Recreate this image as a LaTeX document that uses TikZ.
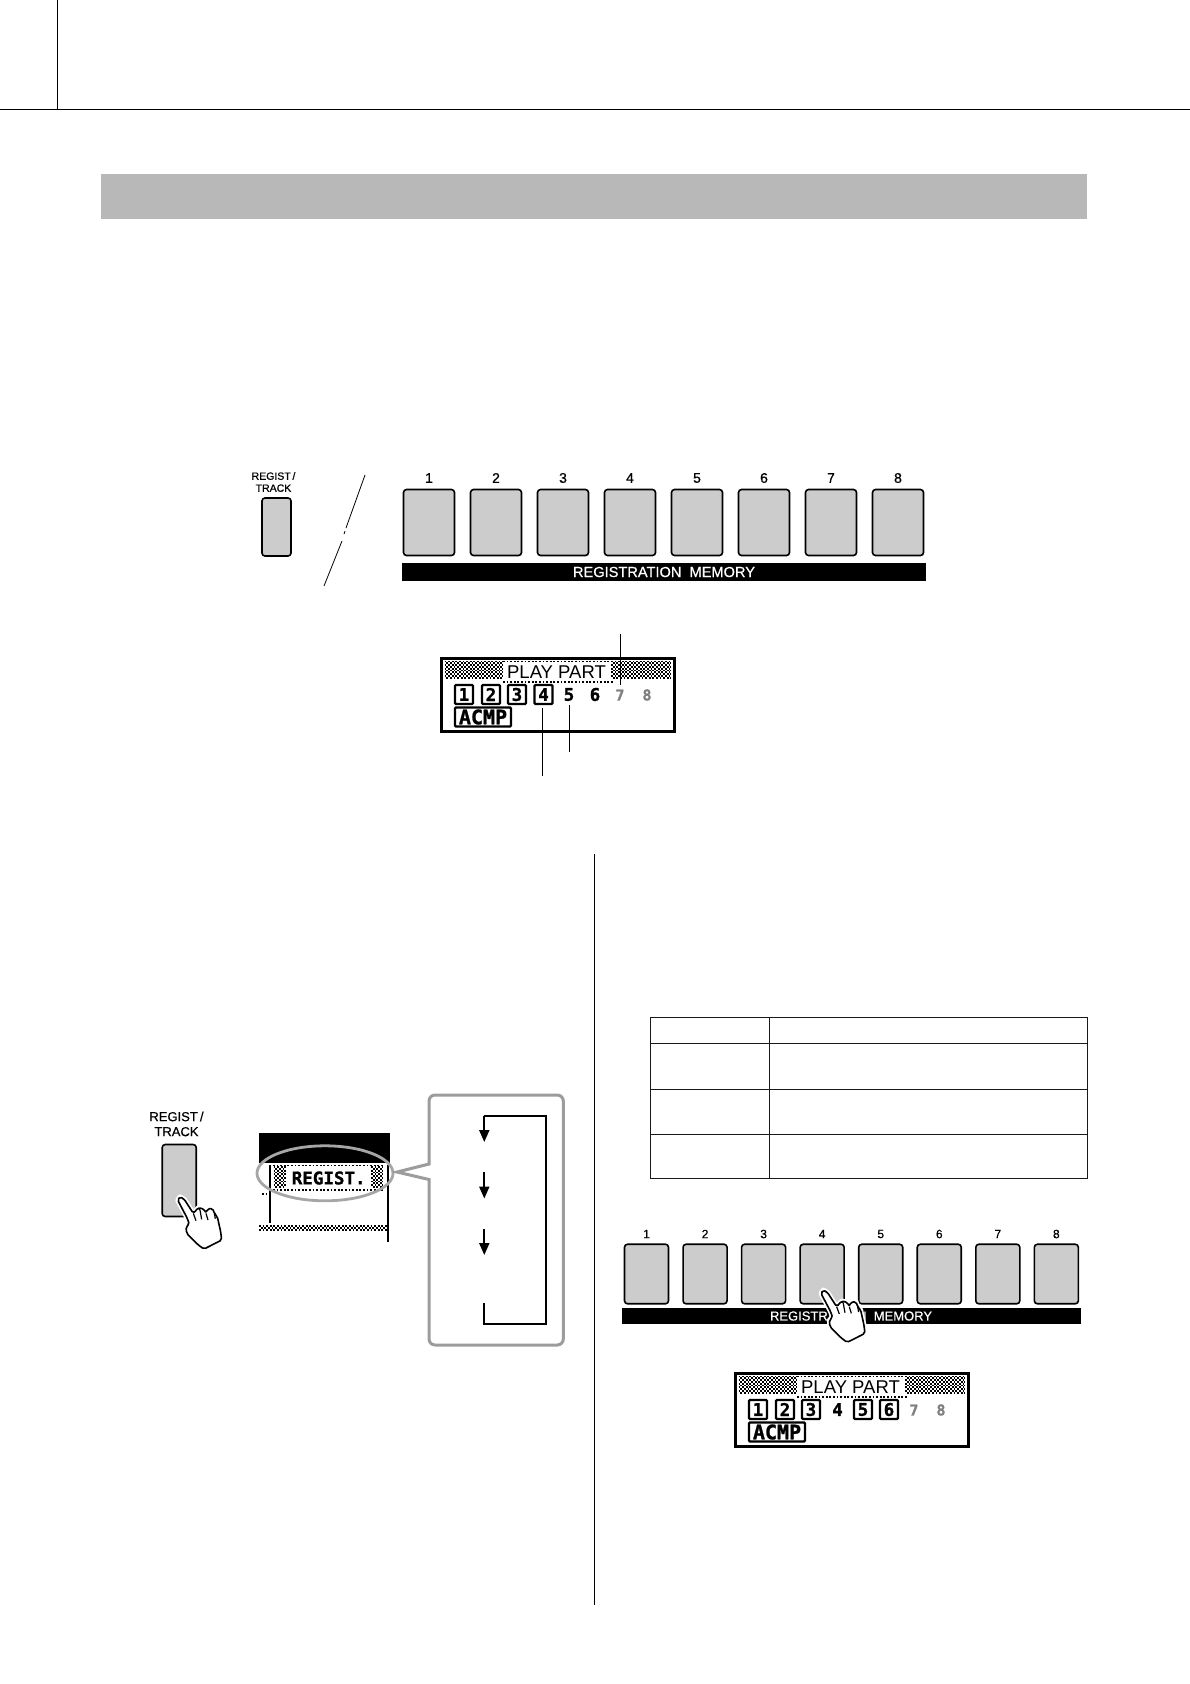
\documentclass[tikz,border=0pt]{standalone}
\usepackage{fontspec}
\setmainfont{Liberation Sans}
\newfontfamily\medfont[FakeBold=0.6]{Liberation Sans}
\newfontfamily\lcdfont[FakeBold=1.2]{DejaVu Sans Mono Bold}
\usetikzlibrary{arrows.meta}
\definecolor{keygray}{HTML}{CCCCCC}
\definecolor{bandgray}{HTML}{B8B8B8}
\definecolor{calloutgray}{HTML}{9C9C9C}
\tikzset{
  x=1pt,y=-1pt,
  keybox/.style={draw=black,fill=keygray,line width=1.6,rounded corners=3,inner sep=0,outer sep=0},
  topkey/.style={keybox,minimum width=51,minimum height=66},
  lowkey/.style={keybox,minimum width=44,minimum height=59.5},
  keynum/.style={font=\medfont\fontsize{14}{14}\selectfont,inner sep=0},
  bandtext/.style={font=\medfont\fontsize{14.6}{15}\selectfont,text=white,inner sep=0},
  thin line/.style={line width=1,black},
  lcdbtn/.style={draw=black,line width=2.3,rounded corners=1,minimum width=18,minimum height=19,inner sep=0,fill=white},
  lcdtxt/.style={font=\lcdfont\fontsize{17.5}{18}\selectfont,inner sep=0},
  lcddim/.style={font=\lcdfont\fontsize{15}{15}\selectfont,inner sep=0,text=black!50},
  pointer/.style={-{Triangle[length=12pt,width=10pt]},line width=1.9},
  handstyle/.style={line width=1.6,line join=round,rounded corners=1.8},
}
\newcommand\chk[4]{%
  \pgfmathsetmacro\nr{int((#4-#3)/1.8)}%
  \foreach \r in {0,...,\nr}{%
    \pgfmathsetmacro\yy{#3+\r*1.8}%
    \pgfmathsetmacro\ph{mod(\r,2)*1.8}%
    \draw[line width=1.8,dash pattern=on 1.8 off 1.8,dash phase=\ph] (#1,\yy) -- (#2,\yy);
  }%
}
\newcommand\lcdbase{%
  \draw[line width=3,fill=white] (0,0) rectangle (233,73);
  \chk{3.5}{62}{3.5}{21}
  \chk{170}{230}{3.5}{21}
  \draw[line width=1.6,dash pattern=on 1.8 off 1.8] (62,3.6) -- (172,3.6);
  \draw[line width=1.6,dash pattern=on 1.8 off 1.8] (62,24) -- (172,24);
  \node[inner sep=0,font=\fontsize{18.5}{19}\selectfont] (pp) at (115.5,14) {PLAY PART};
  \node[lcdbtn,minimum width=56] (acmpbox) at (42,59) {};
  \node[lcdtxt,font=\lcdfont\fontsize{20}{20}\selectfont] (acmp) at (42,59) {ACMP};
  \node[lcddim] (d7) at (179,37) {7};
  \node[lcddim] (d8) at (206,37) {8};
}
\newcommand\lb[2]{\node[lcdbtn] (bx#1) at (#2,36.5) {};\node[lcdtxt] (dg#1) at (#2,36.5) {#1};}
\newcommand\ld[2]{\node[lcdtxt] (dg#1) at (#2,36.5) {#1};}
% hand: local units are 1/3 px, origin at finger tip
\newcommand\handshape{%
  \filldraw[fill=white,draw=white,line width=5,line join=round]
     (-7,10) -- (0,0) -- (13,8) -- (40,50) -- (55,33) -- (72,37) -- (78,50) -- (82,37) -- (98,35) -- (103,50) -- (112,60) -- (122,105) -- (125,130) -- (72,157) -- (55,145) -- (20,110) -- (18,90) -- (28,83) -- (22,65) -- cycle;
  \filldraw[fill=white,draw=black,handstyle]
     (-7,10) -- (0,0) -- (13,8) -- (40,50) -- (55,33) -- (72,37) -- (78,50) -- (82,37) -- (98,35) -- (103,50) -- (112,60) -- (122,105) -- (125,130) -- (72,157) -- (55,145) -- (20,110) -- (18,90) -- (28,83) -- (22,65) -- cycle;
  \draw[line width=1.2] (40,50) -- (48,72);
  \draw[line width=1.2] (55,33) -- (60,40) -- (65,68);
  \draw[line width=1.2] (78,50) -- (84,70);
  \draw[line width=1.2] (103,50) -- (106,66);
}
\begin{document}
\begin{tikzpicture}
\useasboundingbox (0,0) rectangle (1190,1684);
% page header
\draw[line width=1] (0,109) -- (1190,109);
\draw[line width=1] (57,0) -- (57,109);
\fill[bandgray] (101,174) rectangle (1087,219);
% top panel
\node[inner sep=0,align=center,font=\medfont\fontsize{10.5}{12}\selectfont] (topreg) at (273.5,482) {REGIST\,/\\TRACK};
\node[keybox,minimum width=29,minimum height=58] (topregbtn) at (276.5,527) {};
\draw[line width=0.8] (365,475) -- (346,528);
\draw[line width=0.8] (345,531) -- (344,534);
\draw[line width=0.8] (342,541) -- (324,586);
\foreach \i in {1,...,8}{
  \pgfmathsetmacro\xx{429+(\i-1)*67}
  \node[topkey] (t\i) at (\xx,522.5) {};
  \node[keynum] (tn\i) at (\xx,478) {\i};
}
\fill[black] (402,563) rectangle (926,581);
\node[bandtext] (topband) at (664,572) {REGISTRATION\ \ MEMORY};
% play part display 1
\begin{scope}[shift={(441,658)}]
  \lcdbase
  \lb{1}{23} \lb{2}{50} \lb{3}{76} \lb{4}{102.5} \ld{5}{128} \ld{6}{154}
\end{scope}
\coordinate (l7a) at (620.7,634);
\coordinate (l7b) at (620.7,685);
\coordinate (l5a) at (569.3,705);
\coordinate (l5b) at (569.3,752);
\coordinate (l4a) at (542.7,708);
\coordinate (l4b) at (542.7,776);
\draw[thin line] (l7a) -- (l7b);
\draw[thin line] (l5a) -- (l5b);
\draw[thin line] (l4a) -- (l4b);
% column rule
\draw[line width=0.8] (594,854) -- (594,1605);
% left figure
\node[inner sep=0,align=center,font=\medfont\fontsize{13}{15}\selectfont] (leftreg) at (176.5,1124) {REGIST\,/\\TRACK};
\node[keybox,minimum width=34,minimum height=72] (leftbtn) at (179.2,1180.5) {};
\begin{scope}[shift={(180,1196.7)},x=0.3333pt,y=-0.3333pt]
  \handshape
\end{scope}
\fill[black] (259,1133) rectangle (390,1163);
\draw[line width=2] (270,1165) -- (270,1223);
\draw[line width=2] (388.3,1165) -- (388.3,1242);
\draw[line width=1.6,dash pattern=on 1.8 off 1.8] (262,1194) -- (267,1194);
\chk{259}{387}{1226}{1231}
\draw[line width=1.6,dash pattern=on 1.8 off 1.8] (273,1165.5) -- (383,1165.5);
\draw[line width=1.6,dash pattern=on 1.8 off 1.8] (273,1190) -- (383,1190);
\chk{273.5}{286}{1167}{1188.5}
\chk{371}{383}{1167}{1188.5}
\node[inner sep=0,font=\lcdfont\fontsize{17.5}{18}\selectfont] (regist) at (328.7,1178) {REGIST.};
\draw[calloutgray!90,line width=2.8] (325,1173.3) ellipse (68pt and 27.5pt);
% callout
\draw[calloutgray,line width=3,fill=white] (397,1172) [sharp corners] -- (429,1164) -- (429,1130) [rounded corners=6] -- (429,1095) -- (563.3,1095) -- (563.3,1345) -- (429,1345) -- (429,1300) [sharp corners] -- (429,1179.5) -- cycle;
\coordinate (lp) at (484.3,1115.7);
\draw[line width=1.9] (484.3,1303.3) -- (484.3,1324.3) -- (545.7,1324.3) -- (545.7,1115.7) -- (lp);
\draw[pointer] (lp) -- (484.3,1142);
\coordinate (a2a) at (484.3,1172.3);
\coordinate (a2b) at (484.3,1198.5);
\coordinate (a3a) at (484.3,1229);
\coordinate (a3b) at (484.3,1255);
\draw[pointer] (a2a) -- (a2b);
\draw[pointer] (a3a) -- (a3b);
% table
\draw[line width=1,black!90] (650.7,1017.7) rectangle (1087.3,1178.3);
\draw[line width=1,black!90] (769.3,1017.7) -- (769.3,1178.3);
\draw[line width=1,black!90] (650.7,1043.3) -- (1087.3,1043.3);
\draw[line width=1,black!90] (650.7,1089.3) -- (1087.3,1089.3);
\draw[line width=1,black!90] (650.7,1134.3) -- (1087.3,1134.3);
% lower keys
\foreach \i in {1,...,8}{
  \pgfmathsetmacro\xx{646.5+(\i-1)*58.55}
  \node[lowkey] (b\i) at (\xx,1274) {};
  \node[keynum,font=\medfont\fontsize{12}{12}\selectfont] (bn\i) at (\xx,1234) {\i};
}
\fill[black] (621.7,1308.3) rectangle (1080.5,1324);
\node[bandtext,font=\medfont\fontsize{13}{13}\selectfont] (lowband) at (851,1316) {REGISTRATION\ \ MEMORY};
\begin{scope}[shift={(823.3,1290)},x=0.3333pt,y=-0.3333pt]
  \handshape
\end{scope}
% play part display 2
\begin{scope}[shift={(735,1373)}]
  \lcdbase
  \lb{1}{23} \lb{2}{50} \lb{3}{76} \ld{4}{102.5} \lb{5}{128} \lb{6}{154}
\end{scope}
\end{tikzpicture}
\end{document}
